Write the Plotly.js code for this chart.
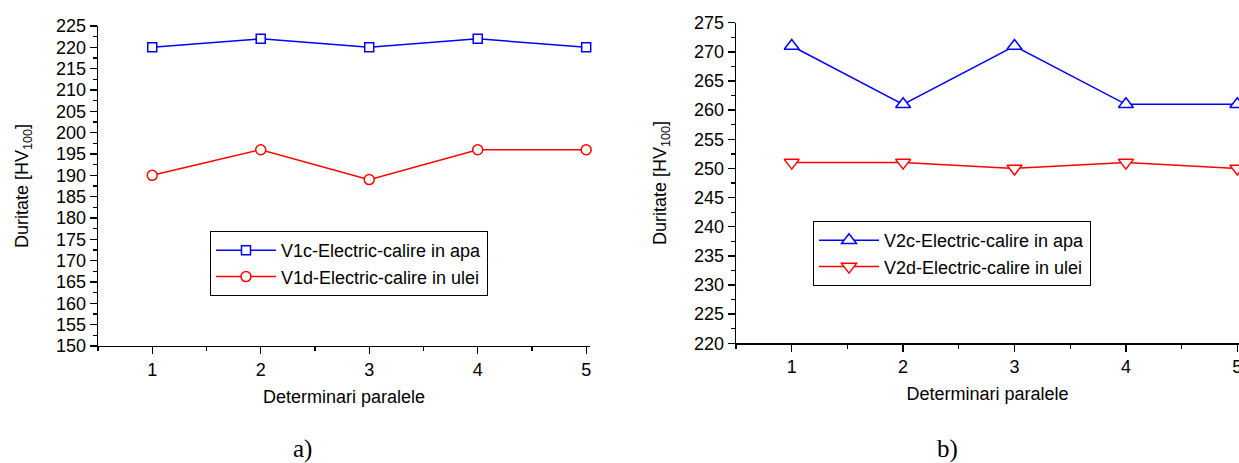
<!DOCTYPE html>
<html>
<head>
<meta charset="utf-8">
<script src="https://cdn.plot.ly/plotly-3.0.1.min.js"></script>
<style>html,body{margin:0;padding:0;background:#fff;}#chart{width:1239px;height:463px;}</style>
</head>
<body>
<div id="chart"></div>
<script>
// ---- data ----
const determinari = [1, 2, 3, 4, 5];
const v1cApa  = [220, 222, 220, 222, 220];
const v1dUlei = [190, 196, 189, 196, 196];
const v2cApa  = [271, 261, 271, 261, 261];
const v2dUlei = [251, 251, 250, 251, 250];
const seriesNames = [
  "V1c-Electric-calire in apa",
  "V1d-Electric-calire in ulei",
  "V2c-Electric-calire in apa",
  "V2d-Electric-calire in ulei"
];
const xTitle = "Determinari paralele";
const yTitle = "Duritate [HV<sub>100</sub>]";
const captions = ["a)", "b)"];

// ---- layout helpers ----
const W = 1239, H = 463;
const px = v => v / W;
const py = v => (H - v) / H;
const FONT = "Liberation Sans, Arial, sans-serif";
const BLUE = "#0000ff", RED = "#ff0000";

function line(x, y, name, color, symbol, size, xa, ya, legend) {
  return {
    x: x, y: y, name: name, type: "scatter", mode: "lines+markers",
    xaxis: xa, yaxis: ya, legend: legend, cliponaxis: false,
    line: {color: color, width: 1.5},
    marker: {symbol: symbol, size: size, color: "#fff", line: {color: color, width: 1.5}}
  };
}

const traces = [
  line(determinari, v1cApa,  seriesNames[0], BLUE, "square", 9, "x", "y", "legend"),
  line(determinari, v1dUlei, seriesNames[1], RED, "circle", 10, "x", "y", "legend"),
  line(determinari, v2cApa,  seriesNames[2], BLUE, "triangle-up", 13, "x2", "y2", "legend2"),
  line(determinari, v2dUlei, seriesNames[3], RED, "triangle-down", 13, "x2", "y2", "legend2")
];

function xAxis(domain, range, anchor) {
  return {
    domain: domain, range: range, anchor: anchor,
    showline: true, linecolor: "#000", linewidth: 1.3,
    showgrid: false, zeroline: false,
    tickmode: "linear", tick0: 0, dtick: 1,
    ticks: "outside", ticklen: 7, tickwidth: 1.3, tickcolor: "#000",
    minor: {ticks: "outside", ticklen: 4, tickwidth: 1.3, tickcolor: "#000", dtick: 0.5, tick0: 0, showgrid: false},
    tickfont: {family: FONT, size: 18, color: "#000"},
    ticklabeloverflow: "allow",
    title: {text: xTitle, font: {family: FONT, size: 18, color: "#000"}, standoff: 11},
    automargin: false, fixedrange: true
  };
}
function yAxis(domain, range, anchor) {
  return {
    domain: domain, range: range, anchor: anchor,
    showline: true, linecolor: "#000", linewidth: 1.3,
    showgrid: false, zeroline: false,
    tickmode: "linear", tick0: range[0], dtick: 5,
    ticks: "outside", ticklen: 7, tickwidth: 1.3, tickcolor: "#000",
    minor: {ticks: "outside", ticklen: 4, tickwidth: 1.3, tickcolor: "#000", dtick: 2.5, tick0: range[0], showgrid: false},
    tickfont: {family: FONT, size: 18, color: "#000"},
    ticklabeloverflow: "allow",
    title: {text: yTitle, font: {family: FONT, size: 18, color: "#000"}, standoff: 22},
    automargin: false, fixedrange: true
  };
}

const legendStyle = {
  xanchor: "left", yanchor: "top",
  bgcolor: "#fff", bordercolor: "#000", borderwidth: 1,
  font: {family: FONT, size: 18, color: "#000"},
  tracegroupgap: 0,
  itemwidth: 60,
  entrywidth: 290, entrywidthmode: "pixels"
};

const layout = {
  width: W, height: H,
  margin: {l: 0, r: 0, t: 0, b: 0},
  paper_bgcolor: "#fff", plot_bgcolor: "#fff",
  showlegend: true,
  xaxis:  xAxis([px(98), px(590)], [0.5, 5.035], "y"),
  yaxis:  yAxis([py(346), py(26)], [150, 225], "x"),
  xaxis2: xAxis([px(736), 1], [0.5, 5.015], "y2"),
  yaxis2: yAxis([py(343.3), py(22.7)], [220, 275], "x2"),
  legend:  Object.assign({x: px(210), y: py(231)}, legendStyle),
  legend2: Object.assign({x: px(813), y: py(221)}, legendStyle),
  annotations: [
    {text: captions[0], x: px(302), y: py(449), xref: "paper", yref: "paper", showarrow: false,
     xanchor: "center", yanchor: "middle", font: {family: "Liberation Serif, Times New Roman, serif", size: 25, color: "#000"}},
    {text: captions[1], x: px(947), y: py(449), xref: "paper", yref: "paper", showarrow: false,
     xanchor: "center", yanchor: "middle", font: {family: "Liberation Serif, Times New Roman, serif", size: 25, color: "#000"}}
  ]
};

Plotly.newPlot("chart", traces, layout, {staticPlot: true, displayModeBar: false});
</script>
</body>
</html>
